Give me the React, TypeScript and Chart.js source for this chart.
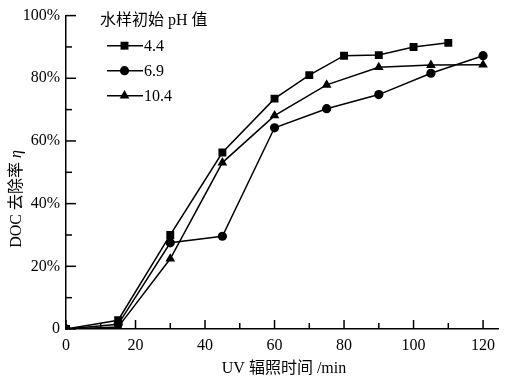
import React, { useEffect, useRef } from "react";
import { Chart, registerables } from "chart.js";

Chart.register(...registerables);

const seriesNames = ["4.4", "6.9", "10.4"];
const x44 = [0, 15, 30, 45, 60, 70, 80, 90, 100, 110];
const y44 = [0, 2.8, 30, 56.3, 73.5, 81, 87.2, 87.4, 90, 91.3];
const x69 = [0, 15, 30, 45, 60, 75, 90, 105, 120];
const y69 = [0, 1.5, 27.5, 29.6, 64.2, 70.3, 74.8, 81.6, 87.2];
const x104 = [0, 15, 30, 45, 60, 75, 90, 105, 120];
const y104 = [0, 0.6, 22.4, 53.1, 68.1, 77.9, 83.5, 84.2, 84.3];
const xTickValues = [0, 10, 20, 30, 40, 50, 60, 70, 80, 90, 100, 110, 120];
const yTickValues = [0, 10, 20, 30, 40, 50, 60, 70, 80, 90, 100];
const legendTitle = "水样初始 pH 值";
const xTitle = "UV 辐照时间 /min";
const yTitleMain = "DOC 去除率 ";
const yTitleSym = "η";

const FONT = "'Liberation Serif', 'Times New Roman', 'Noto Sans CJK SC', serif";
const styles = ["rect", "circle", "triangle"];
const radii = [5.6, 4.6, 5.6];

function drawMarker(ctx: CanvasRenderingContext2D, style: string, x: number, y: number, r: number) {
  ctx.beginPath();
  if (style === "rect") {
    const s = r * Math.SQRT1_2;
    ctx.rect(x - s, y - s, 2 * s, 2 * s);
  } else if (style === "circle") {
    ctx.arc(x, y, r, 0, Math.PI * 2);
  } else {
    const h = r * 1.5;
    ctx.moveTo(x, y - r);
    ctx.lineTo(x + r * 0.866 * 1.0, y + r * 0.5);
    ctx.lineTo(x - r * 0.866 * 1.0, y + r * 0.5);
    ctx.closePath();
    void h;
  }
  ctx.fill();
}

const decorPlugin = {
  id: "decor",
  afterDraw(chart: any) {
    const ctx: CanvasRenderingContext2D = chart.ctx;
    const xs = chart.scales.x;
    const ys = chart.scales.y;
    const { left, bottom } = chart.chartArea;
    ctx.save();
    ctx.strokeStyle = "#000";
    ctx.lineWidth = 1.5;
    // inward ticks
    xTickValues.forEach((v) => {
      const px = xs.getPixelForValue(v);
      const len = v % 20 === 0 ? 9 : 6;
      ctx.beginPath();
      ctx.moveTo(px, bottom);
      ctx.lineTo(px, bottom - len);
      ctx.stroke();
    });
    yTickValues.forEach((v) => {
      const py = ys.getPixelForValue(v);
      const len = v % 20 === 0 ? 10 : 6;
      ctx.beginPath();
      ctx.moveTo(left, py);
      ctx.lineTo(left + len, py);
      ctx.stroke();
    });
    // x title
    ctx.fillStyle = "#000";
    ctx.font = `16px ${FONT}`;
    ctx.textAlign = "center";
    ctx.textBaseline = "middle";
    ctx.fillText(xTitle, 284, 369);
    // y title
    ctx.save();
    ctx.translate(17, 199);
    ctx.rotate(-Math.PI / 2);
    ctx.font = `16px ${FONT}`;
    const w1 = ctx.measureText(yTitleMain).width;
    ctx.font = `italic 16px ${FONT}`;
    const w2 = ctx.measureText(yTitleSym).width;
    const start = -(w1 + w2) / 2;
    ctx.textAlign = "left";
    ctx.font = `16px ${FONT}`;
    ctx.fillText(yTitleMain, start, 0);
    ctx.font = `italic 16px ${FONT}`;
    ctx.fillText(yTitleSym, start + w1, 0);
    ctx.restore();
    // legend
    ctx.font = `16px ${FONT}`;
    ctx.textAlign = "left";
    ctx.textBaseline = "middle";
    ctx.fillText(legendTitle, 100, 21);
    const rows = [45.7, 70.7, 95.7];
    seriesNames.forEach((name, i) => {
      const y = rows[i];
      ctx.beginPath();
      ctx.moveTo(107, y);
      ctx.lineTo(143, y);
      ctx.stroke();
      drawMarker(ctx, styles[i], 124.5, y, radii[i]);
      ctx.fillText(name, 144, y + 1);
    });
    ctx.restore();
  },
};

function toPts(xs: number[], ys: number[]) {
  return xs.map((x, i) => ({ x, y: ys[i] }));
}

export default function App() {
  const ref = useRef<HTMLCanvasElement | null>(null);
  useEffect(() => {
    if (!ref.current) return;
    const mk = (label: string, data: any[], style: string, r: number) => ({
      label,
      data,
      borderColor: "#000",
      backgroundColor: "#000",
      borderWidth: 1.5,
      pointStyle: style,
      pointRadius: r,
      pointBorderWidth: 0,
      pointBackgroundColor: "#000",
      tension: 0,
      fill: false,
    });
    const chart = new Chart(ref.current, {
      type: "line",
      data: {
        datasets: [
          mk(seriesNames[0], toPts(x44, y44), "rect", radii[0]),
          mk(seriesNames[1], toPts(x69, y69), "circle", radii[1]),
          mk(seriesNames[2], toPts(x104, y104), "triangle", radii[2]),
        ],
      },
      options: {
        responsive: false,
        animation: false,
        layout: { padding: { top: 9, right: 14, left: 0, bottom: 0 } },
        plugins: { legend: { display: false }, tooltip: { enabled: false } },
        scales: {
          x: {
            type: "linear",
            min: 0,
            max: 124.3,
            grid: { display: false, drawTicks: false },
            border: { display: true, color: "#000", width: 1.5 },
            afterBuildTicks: (s: any) => {
              s.ticks = xTickValues.filter((v) => v % 20 === 0).map((v) => ({ value: v }));
            },
            afterFit: (s: any) => {
              s.height = 52;
            },
            ticks: {
              padding: 7,
              color: "#000",
              font: { family: FONT, size: 16 },
              maxRotation: 0,
              autoSkip: false,
            },
          },
          y: {
            type: "linear",
            min: 0,
            max: 100,
            grid: { display: false, drawTicks: false },
            border: { display: true, color: "#000", width: 1.5 },
            afterBuildTicks: (s: any) => {
              s.ticks = yTickValues.filter((v) => v % 20 === 0).map((v) => ({ value: v }));
            },
            afterFit: (s: any) => {
              s.width = 66;
            },
            ticks: {
              padding: 6,
              color: "#000",
              font: { family: FONT, size: 16 },
              autoSkip: false,
              callback: (v: any) => (Number(v) === 0 ? "0" : `${v}%`),
            },
          },
        },
      },
      plugins: [decorPlugin],
    } as any);
    return () => chart.destroy();
  }, []);
  return (
    <div style={{ position: "fixed", left: 0, top: 0, width: 512, height: 381, background: "#fff" }}>
      <canvas ref={ref} width={512} height={381} />
    </div>
  );
}
